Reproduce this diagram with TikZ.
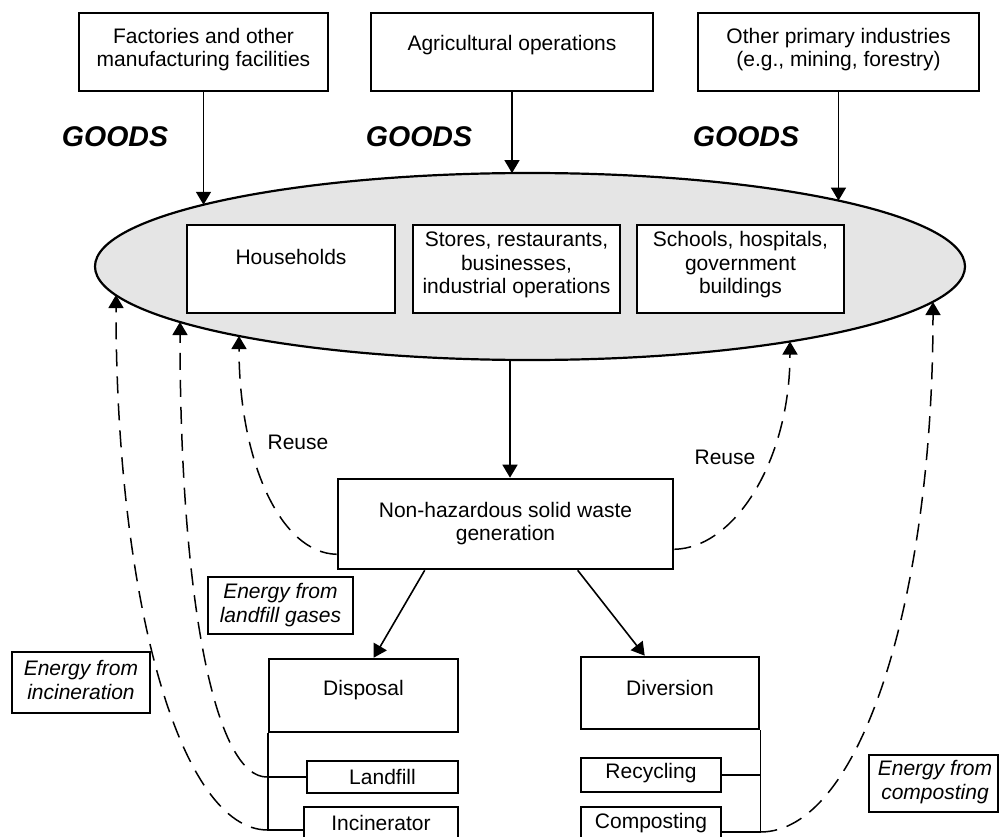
\documentclass[tikz,border=0pt]{standalone}
\usepackage{fontspec}
\setmainfont{Liberation Sans}
\usetikzlibrary{arrows.meta,shapes.geometric,calc}
\begin{document}
\begin{tikzpicture}[x=1pt,y=-1pt,
  box/.style={draw, line width=2.6pt, inner sep=0pt, fill=white},
  txt/.style={align=center, inner sep=0pt, font=\fontsize{21}{23.5}\selectfont},
  itxt/.style={align=center, inner sep=0pt, font=\fontsize{21}{23.5}\selectfont\itshape},
  goods/.style={inner sep=0pt, font=\fontsize{28.5}{30}\selectfont\bfseries\itshape},
  arr/.style={line width=1.6pt, -{Triangle[width=15pt,length=13pt]}},
  link/.style={line width=1.6pt},
  darr/.style={line width=1.5pt, dash pattern=on 17pt off 10pt, -{Triangle[width=15pt,length=13pt]}}
]
\useasboundingbox (0,0) rectangle (999,837);

% top boxes
\node[box, minimum width=249pt, minimum height=78pt] (f1) at (203.5,52) {};
\node[txt] (f1t) at (203.5,49.5) {Factories and other\\manufacturing facilities};
\node[box, minimum width=282pt, minimum height=78pt] (f2) at (512,52) {};
\node[txt] (f2t) at (512,45) {Agricultural operations};
\node[box, minimum width=281pt, minimum height=78pt] (f3) at (838.5,52) {};
\node[txt] (f3t) at (838.5,49.5) {Other primary industries\\(e.g., mining, forestry)};

% GOODS labels
\node[goods] (g1) at (115,137) {GOODS};
\node[goods] (g2) at (419,137) {GOODS};
\node[goods] (g3) at (746,137) {GOODS};

% ellipse
\node[ellipse, draw, line width=2.2pt, fill=black!10, inner sep=0pt,
      minimum width=870pt, minimum height=187pt] (hh) at (530,266.5) {};

% boxes inside the ellipse
\node[box, minimum width=208pt, minimum height=88pt] (b1) at (291,269) {};
\node[txt] (b1t) at (291,257) {Households};
\node[box, minimum width=207pt, minimum height=88pt] (b2) at (516.5,269) {};
\node[txt] (b2t) at (516.5,265) {Stores, restaurants,\\businesses,\\industrial operations};
\node[box, minimum width=207pt, minimum height=88pt] (b3) at (740.5,269) {};
\node[txt] (b3t) at (740.5,265) {Schools, hospitals,\\government\\buildings};

% points on the ellipse
\coordinate (e1) at (203.5,204.8);
\coordinate (e2) at (512,173.1);
\coordinate (e3) at (838.5,200.6);
\coordinate (eb) at (510,360);
\coordinate (ei) at (116,295);
\coordinate (el) at (180,322);
\coordinate (er1) at (239,336);
\coordinate (er2) at (790,341.5);
\coordinate (ec) at (933,302);

\draw[arr] (f1.south) -- (e1);
\draw[arr] (f2.south) -- (e2);
\draw[arr] (f3.south) -- (e3);

% waste generation
\node[box, minimum width=335pt, minimum height=90pt] (nh) at (505.5,524) {};
\node[txt] (nht) at (505.5,523.5) {Non-hazardous solid waste\\generation};
\draw[arr] (eb) -- (eb |- nh.north);

% reuse
\node[txt] (r1) at (298,442) {Reuse};
\node[txt] (r2) at (725,457) {Reuse};
\draw[darr] ($(nh.south west)+(0,-16)$) .. controls (280,553) and (239,460) .. (er1);
\draw[darr] ($(nh.south east)+(0,-21)$) .. controls (735,548) and (790,460) .. (er2);

% disposal / diversion
\node[box, minimum width=189pt, minimum height=73pt] (dp) at (363.5,695.5) {};
\node[txt] (dpt) at (363.5,690) {Disposal};
\node[box, minimum width=178pt, minimum height=72pt] (dv) at (670,693) {};
\node[txt] (dvt) at (670,688) {Diversion};
\draw[arr] ($(nh.south west)+(88,0)$) -- ($(dp.north west)+(106,0)$);
\draw[arr] ($(nh.south west)+(241,0)$) -- ($(dv.north west)+(65,0)$);

% sub boxes
\node[box, minimum width=151pt, minimum height=32pt] (lf) at (382.5,777) {};
\node[txt] (lft) at (382.5,777) {Landfill};
\node[box, minimum width=154pt, minimum height=46pt] (inc) at (381,830) {};
\node[txt] (inct) at (381,823) {Incinerator};
\node[box, minimum width=140pt, minimum height=34pt] (rc) at (651,775) {};
\node[txt] (rct) at (651,773) {Recycling};
\node[box, minimum width=140pt, minimum height=50pt] (cp) at (651,832) {};
\node[txt] (cpt) at (651,823) {Composting};

\coordinate (dl) at (dp.south west |- lf.west);
\coordinate (di) at (dp.south west |- inc.west);
\coordinate (vr) at (dv.south east |- rc.east);
\coordinate (vc) at (dv.south east |- cp.east);
\draw[link] (dp.south west) -- (di) -- (inc.west);
\draw[link] (dl) -- (lf.west);
\draw[link] (dv.south east) -- (vc) -- (cp.east);
\draw[link] (vr) -- (rc.east);

% energy recovery
\node[box, minimum width=145pt, minimum height=57pt] (eg1) at (280.5,605.5) {};
\node[itxt] (eg1t) at (280.5,605) {Energy from\\landfill gases};
\node[box, minimum width=138pt, minimum height=61pt] (eg2) at (81,682.5) {};
\node[itxt] (eg2t) at (81,680) {Energy from\\incineration};
\node[box, minimum width=129pt, minimum height=57pt] (eg3) at (933.5,783.5) {};
\node[itxt] (eg3t) at (935,782) {Energy from\\composting};

\draw[darr] (dl) .. controls (215,779) and (180,600) .. (el);
\draw[darr] (di) .. controls (180,830) and (116,600) .. (ei);
\draw[darr] (vc) .. controls (860,832) and (933,600) .. (ec);
\end{tikzpicture}
\end{document}
